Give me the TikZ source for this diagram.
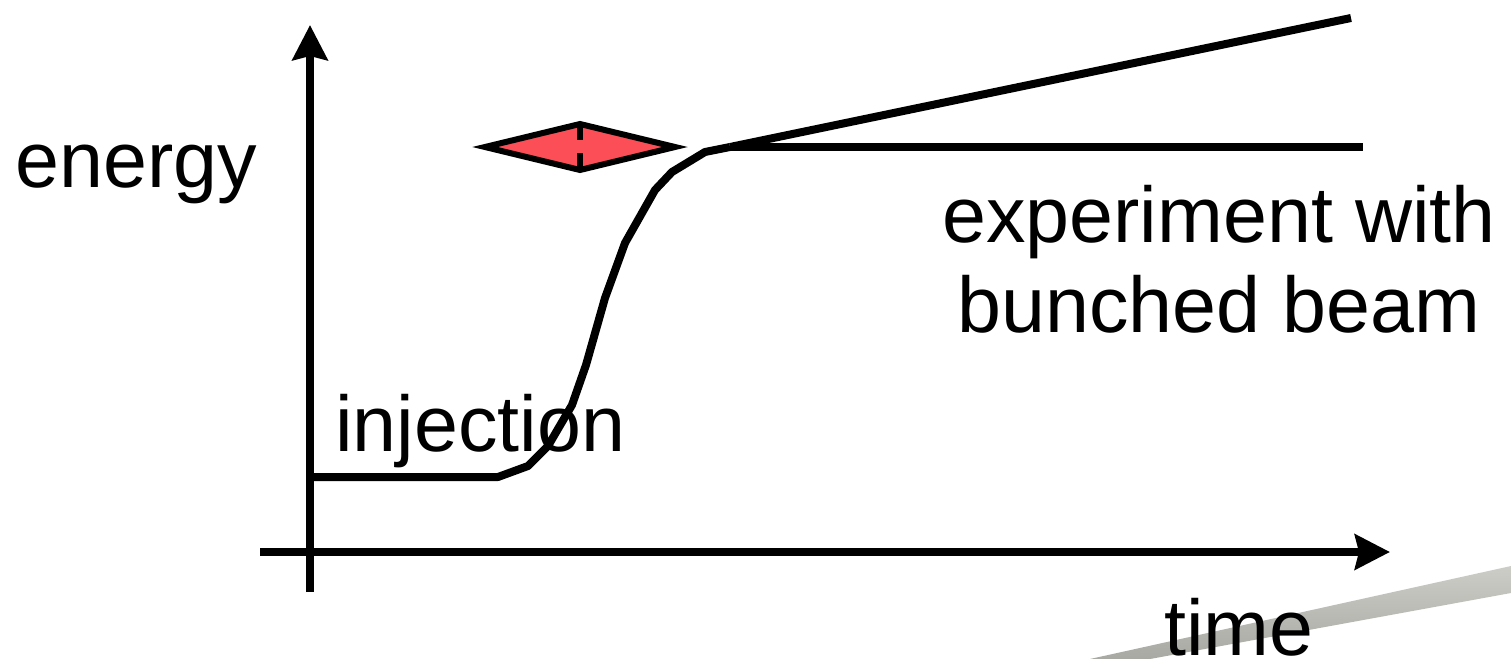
\documentclass[tikz,border=0pt]{standalone}
\usepackage{fontspec}
\setmainfont{Liberation Sans}
\usetikzlibrary{arrows.meta}
\definecolor{bunchred}{RGB}{252,78,86}
\definecolor{wedgegray}{RGB}{168,169,163}
\definecolor{wedgelight}{RGB}{205,205,200}
\tikzset{
  axisline/.style={line width=4pt, -{Stealth[length=17.5pt,width=17.5pt,inset=2pt]}},
  curveline/.style={line width=4pt, line join=round},
  lbl/.style={inner sep=0pt, anchor=base west, font=\fontsize{39.5}{47}\selectfont},
  bunch/.style={fill=bunchred, draw=black, line width=3pt, line join=miter},
}
\begin{document}
\begin{tikzpicture}[x=0.5pt,y=-0.5pt]
\useasboundingbox (0,0) rectangle (1511,659);
% grey wedge
\shade[left color=wedgelight, right color=wedgegray, shading angle=0]
  (1090,659) -- (1511,566) -- (1511,593) -- (1150,659) -- cycle;
% axes
\coordinate (ybot) at (310,592);
\coordinate (ytop) at (310,25);
\coordinate (xleft) at (260,552);
\coordinate (xright) at (1390,552);
\draw[axisline] (ybot) -- (ytop);
\draw[axisline] (xleft) -- (xright);
% curve
\coordinate (c0) at (310,477);
\coordinate (c1) at (498,477);
\coordinate (c2) at (528,466);
\coordinate (c3) at (548,446);
\coordinate (c4) at (572,405);
\coordinate (c5) at (586,365);
\coordinate (c6) at (605,298);
\coordinate (c7) at (625,243);
\coordinate (c8) at (655,190);
\coordinate (c9) at (672,172);
\coordinate (c10) at (705,152);
\coordinate (c11) at (730,147);
\coordinate (flat) at (1363,147);
\coordinate (ramp) at (1351,18);
\draw[curveline] (c0) -- (c1) -- (c2) -- (c3) -- (c4) -- (c5) -- (c6) -- (c7) -- (c8) -- (c9) -- (c10) -- (c11);
\draw[curveline] (c11) -- (flat);
\draw[curveline] (c11) -- (ramp);
% bunch diamond
\coordinate (dl) at (485,147);
\coordinate (dt) at (580,124);
\coordinate (dr) at (675,147);
\coordinate (db) at (580,170);
\draw[bunch] (dl) -- (dt) -- (dr) -- (db) -- cycle;
\draw[line width=3pt, dash pattern=on 8pt off 6.5pt] (dt) -- (db);
% labels
\node[lbl] (energy) at (15,187) {energy};
\node[lbl] (inj) at (335,451) {injection};
\node[lbl] (exp1) at (942,242) {experiment with};
\node[lbl] (exp2) at (957,332) {bunched beam};
\node[lbl] (time) at (1164,655) {time};
\end{tikzpicture}
\end{document}
